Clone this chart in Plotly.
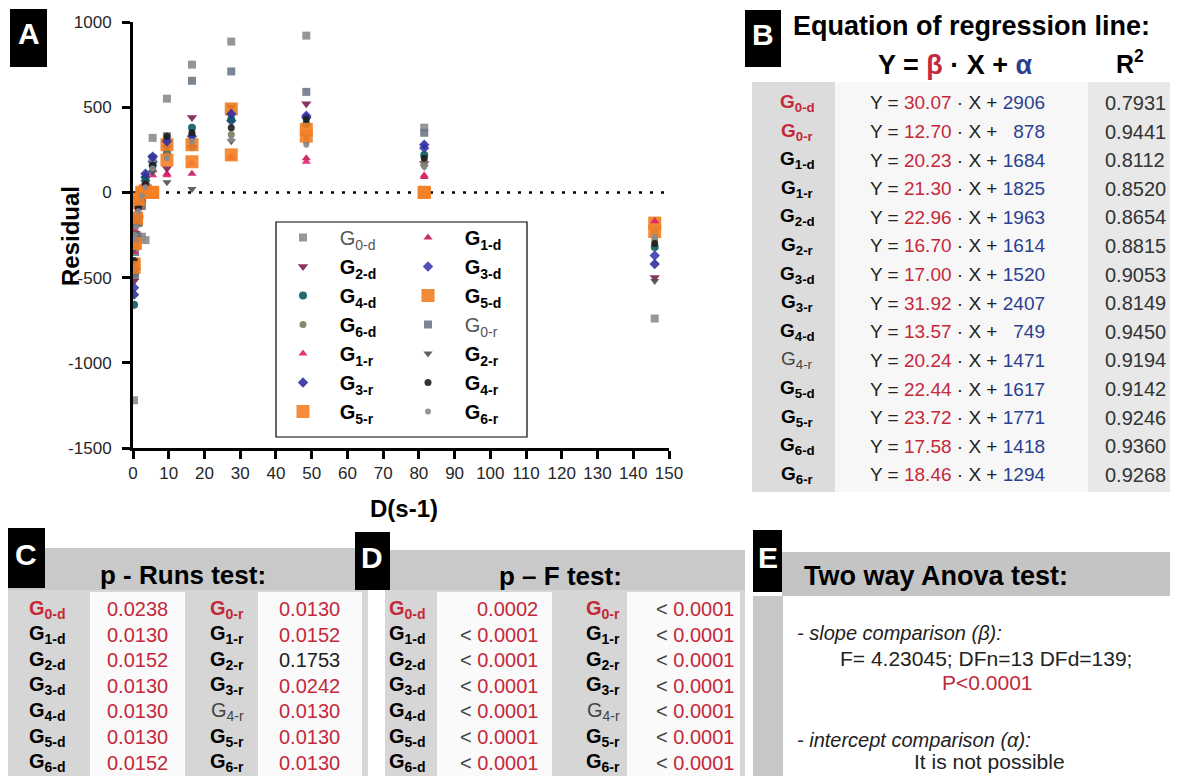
import plotly.graph_objects as go

# the page puts the figure 8px in from the top-left corner, so the figure is a bit
# smaller than the window and every reference pixel is shifted by OFF
OFF = 8
W, H = 1162, 768

# shear rate D (s-1) at which the residuals were measured
shear_rate = [0.3, 0.6, 1.0, 1.5, 2.5, 3.5, 5.5, 9.5, 16.5, 27.5, 48.5, 81.5, 146]

# residuals
res_g0_d = [-1220, -490, -300, -270, -260, -280, 320, 550, 750, 885, 920, 380, -740]
res_g1_d = [-300, -180, -120, -60, 20, 60, 130, 110, 110, 210, 200, 90, -170]
res_g2_d = [-520, -400, -250, -150, -40, 60, 200, 140, 440, 500, 520, 170, -500]
res_g3_d = [-560, -420, -260, -140, -20, 90, 180, 270, 270, 420, 450, 260, -370]
res_g4_d = [-660, -470, -300, -160, -50, 80, 160, 230, 380, 430, 400, 220, -320]
res_g5_d = [-420, -300, -160, -60, 0, 10, 0, 280, 280, 490, 370, 0, -180]
res_g6_d = [-270, -200, -130, -70, 10, 40, 140, 220, 340, 340, 300, 180, -280]
res_g0_r = [-480, -350, -250, -180, -80, 40, 200, 330, 655, 710, 590, 350, -230]
res_g1_r = [-350, -220, -150, -90, -10, 50, 100, 100, 170, 200, 180, 100, -170]
res_g2_r = [-330, -240, -160, -90, -20, 30, 120, 60, 20, 300, 330, 150, -520]
res_g3_r = [-600, -450, -280, -150, -30, 110, 210, 300, 330, 460, 440, 280, -420]
res_g4_r = [-400, -280, -180, -90, -10, 50, 160, 330, 350, 380, 430, 200, -300]
res_g5_r = [-440, -300, -150, -40, 0, 0, 0, 190, 180, 220, 330, 0, -230]
res_g6_r = [-280, -250, -200, -110, -20, 30, 140, 200, 300, 310, 280, 150, -260]

x_ticks = list(range(0, 151, 10))
y_ticks = [-1500, -1000, -500, 0, 500, 1000]
y_ticktext = ["-1500", "-1000", "-500", "0", "500", "1000"]

# panel B - regression lines
eq_groups = ["0-d", "0-r", "1-d", "1-r", "2-d", "2-r", "3-d", "3-r",
             "4-d", "4-r", "5-d", "5-r", "6-d", "6-r"]
beta = [30.07, 12.70, 20.23, 21.30, 22.96, 16.70, 17.00, 31.92, 13.57, 20.24, 22.44, 23.72, 17.58, 18.46]
alpha = [2906, 878, 1684, 1825, 1963, 1614, 1520, 2407, 749, 1471, 1617, 1771, 1418, 1294]
r2 = [0.7931, 0.9441, 0.8112, 0.8520, 0.8654, 0.8815, 0.9053, 0.8149, 0.9450, 0.9194, 0.9142, 0.9246, 0.9360, 0.9268]

# panel C - runs test
groups_d = ["0-d", "1-d", "2-d", "3-d", "4-d", "5-d", "6-d"]
groups_r = ["0-r", "1-r", "2-r", "3-r", "4-r", "5-r", "6-r"]
runs_p_d = [0.0238, 0.0130, 0.0152, 0.0130, 0.0130, 0.0130, 0.0152]
runs_p_r = [0.0130, 0.0152, 0.1753, 0.0242, 0.0130, 0.0130, 0.0130]

# panel D - F test
f_p_d = ["0.0002", "< 0.0001", "< 0.0001", "< 0.0001", "< 0.0001", "< 0.0001", "< 0.0001"]
f_p_r = ["< 0.0001", "< 0.0001", "< 0.0001", "< 0.0001", "< 0.0001", "< 0.0001", "< 0.0001"]

RED = "#c4283a"
BLUE = "#2b3f8f"

series = [
    ("0-d", res_g0_d, "square", 8, "#8c8c8c"),
    ("1-d", res_g1_d, "triangle-up", 8, "#c2185b"),
    ("2-d", res_g2_d, "triangle-down", 9, "#7b2050"),
    ("3-d", res_g3_d, "diamond", 8, "#3b3bb0"),
    ("4-d", res_g4_d, "circle", 8, "#0d5c5c"),
    ("5-d", res_g5_d, "square", 13, "#f07d1e"),
    ("6-d", res_g6_d, "circle", 7, "#7b7b5b"),
    ("0-r", res_g0_r, "square", 8, "#6e7886"),
    ("1-r", res_g1_r, "triangle-up", 8, "#e0206e"),
    ("2-r", res_g2_r, "triangle-down", 8, "#505050"),
    ("3-r", res_g3_r, "diamond", 8, "#3030a0"),
    ("4-r", res_g4_r, "circle", 7, "#1e1e1e"),
    ("5-r", res_g5_r, "square", 13, "#f58025"),
    ("6-r", res_g6_r, "circle", 6, "#8a8a8a"),
]

fig = go.Figure()
pad = "\u00a0\u00a0\u00a0"
for i, (g, res, sym, size, col) in enumerate(series):
    if g.startswith("0"):
        label = pad + '<span style="color:#555">G<sub>' + g + '</sub></span>'
    else:
        label = pad + "<b>G<sub>" + g + "</sub></b>"
    fig.add_trace(go.Scatter(
        x=shear_rate, y=res, mode="markers", name=label,
        marker=dict(symbol=sym, size=size, color=col, opacity=0.9),
        legend="legend" if i % 2 == 0 else "legend2",
    ))

shapes = []
annotations = []


# reference pixel -> paper fraction
def fx(x):
    return (x - OFF) / W


def fy(y):
    return 1 - (y - OFF) / H


def box(x0, y0, x1, y1, fill, layer="below"):
    shapes.append(dict(type="rect", xref="paper", yref="paper",
                       x0=fx(x0), x1=fx(x1), y0=fy(y1), y1=fy(y0),
                       fillcolor=fill, line=dict(width=0), layer=layer))


def note(x, y, text, size=18, color="black", xanchor="center", **kw):
    annotations.append(dict(x=fx(x), y=fy(y), xref="paper", yref="paper", text=text,
                            showarrow=False, xanchor=xanchor, yanchor="middle",
                            font=dict(family="Arial", size=size, color=color), **kw))


def g_label(g, color="black", bold=True):
    t = "G<sub>" + g + "</sub>"
    if bold:
        t = "<b>" + t + "</b>"
    return '<span style="color:' + color + '">' + t + "</span>"


def label_style(g):
    if g.startswith("0"):
        return RED, True
    if g == "4-r":
        return "#444444", False
    return "black", True


# zero line and legend frame in panel A
shapes.append(dict(type="line", xref="x", yref="y", x0=0, x1=150, y0=0, y1=0,
                   line=dict(color="black", width=2.5, dash="3px,8px"), layer="below"))
shapes.append(dict(type="rect", xref="paper", yref="paper", x0=fx(276), x1=fx(527),
                   y0=fy(437), y1=fy(222), line=dict(color="black", width=1.2),
                   fillcolor="rgba(0,0,0,0)"))

# axis titles
note(70, 236, "<b>Residual</b>", size=24, textangle=-90)
note(404, 508, "<b>D(s-1)</b>", size=24)

# panel B backgrounds
box(752, 82, 835, 492, "#dcdcdc")
box(835, 82, 1088, 492, "#f7f7f7")
box(1088, 82, 1178, 492, "#e8e8e8")
note(971, 26, "<b>Equation of regression line:</b>", size=27)
note(955, 65, '<b>Y = <span style="color:%s">β</span> · X + <span style="color:%s">α</span></b>' % (RED, BLUE), size=27)
note(1130, 62, "<b>R<sup>2</sup></b>", size=25)
for i, g in enumerate(eq_groups):
    y = 103 + i * 28.6
    col, bold = label_style(g)
    note(797, y, g_label(g, col, bold), size=19)
    a = str(alpha[i])
    if alpha[i] < 1000:
        a = "\u00a0\u00a0" + a
    eq = 'Y = <span style="color:%s">%.2f</span> · X + <span style="color:%s">%s</span>' % (RED, beta[i], BLUE, a)
    note(868, y, eq, size=19, color="#222", xanchor="left")
    note(1135, y, "%.4f" % r2[i], size=20, color="#333")

row0, row_step = 609, 25.6

# panel C
box(7, 548, 368, 590, "#c9c9c9")
box(7, 590, 368, 784, "#d6d6d6")
box(90, 592, 185, 784, "#fafafa")
box(258, 592, 362, 784, "#fafafa")
note(183, 575, "<b>p - Runs test:</b>", size=26)
for i in range(7):
    y = row0 + i * row_step
    col, bold = label_style(groups_d[i])
    note(47, y, g_label(groups_d[i], col, bold), size=20)
    note(137, y, "%.4f" % runs_p_d[i], size=20, color=RED if runs_p_d[i] < 0.05 else "#222")
    col, bold = label_style(groups_r[i])
    note(227, y, g_label(groups_r[i], col, bold), size=20)
    note(309, y, "%.4f" % runs_p_r[i], size=20, color=RED if runs_p_r[i] < 0.05 else "#222")

# panel D
box(390, 550, 745, 590, "#c9c9c9")
box(385, 590, 745, 784, "#d6d6d6")
box(437, 592, 552, 784, "#fafafa")
box(627, 592, 740, 784, "#fafafa")
note(560, 576, "<b>p – F test:</b>", size=26)


def p_text(s):
    if s.startswith("<"):
        return '<span style="color:#444">&lt;</span> <span style="color:%s">%s</span>' % (RED, s[2:])
    return '<span style="color:%s">%s</span>' % (RED, s)


for i in range(7):
    y = row0 + i * row_step
    col, bold = label_style(groups_d[i])
    note(407, y, g_label(groups_d[i], col, bold), size=20)
    note(540, y, p_text(f_p_d[i]), size=20, xanchor="right")
    col, bold = label_style(groups_r[i])
    note(603, y, g_label(groups_r[i], col, bold), size=20)
    note(736, y, p_text(f_p_r[i]), size=20, xanchor="right")

# panel E
box(782, 552, 1178, 596, "#c4c4c4")
box(753, 596, 783, 784, "#c8c8c8")
note(802, 576, "<b>Two way Anova test:</b>", size=27, xanchor="left")
note(795, 633, "<i>- slope comparison (β):</i>", size=20, color="#222", xanchor="left")
note(986, 658, "F= 4.23045; DFn=13 DFd=139;", size=21, color="#222")
note(987, 682, "P&lt;0.0001", size=21, color=RED)
note(795, 740, "<i>- intercept comparison (α):</i>", size=20, color="#222", xanchor="left")
note(989, 761, "It is not possible", size=21, color="#222")

# panel letters
for letter, (x0, y0, x1, y1) in zip("ABCDE", [(10, 9, 47, 67), (745, 10, 781, 67),
                                             (7, 528, 45, 588), (355, 532, 390, 590),
                                             (753, 530, 782, 592)]):
    box(x0, y0, x1, y1, "black", layer="above")
    note((x0 + x1) / 2, (y0 + y1) / 2 - 4, "<b>" + letter + "</b>", size=30, color="white")

axis_font = dict(family="Arial", size=17, color="#262626")
fig.update_layout(
    template="none",
    width=W, height=H,
    margin=dict(l=0, r=0, t=0, b=0, autoexpand=False),
    paper_bgcolor="white",
    plot_bgcolor="rgba(0,0,0,0)",
    font=dict(family="Arial"),
    xaxis=dict(domain=[fx(133), fx(669)], range=[0, 150], tickvals=x_ticks,
               ticks="outside", ticklen=8, tickwidth=3, tickcolor="black",
               showline=True, linewidth=3, linecolor="black", showgrid=False, zeroline=False,
               automargin=False, tickfont=axis_font),
    yaxis=dict(domain=[fy(448), fy(22)], range=[-1500, 1000], tickvals=y_ticks, ticktext=y_ticktext,
               ticks="outside", ticklen=8, tickwidth=3, tickcolor="black", ticklabelstandoff=7,
               showline=True, linewidth=3, linecolor="black", showgrid=False, zeroline=False,
               automargin=False, tickfont=axis_font),
    legend=dict(x=fx(283), y=fy(218), xanchor="left", yanchor="top", bgcolor="rgba(0,0,0,0)",
                font=dict(family="Arial", size=20, color="black")),
    legend2=dict(x=fx(408), y=fy(218), xanchor="left", yanchor="top", bgcolor="rgba(0,0,0,0)",
                 font=dict(family="Arial", size=20, color="black")),
    shapes=shapes,
    annotations=annotations,
)

fig.write_html("out.html")
